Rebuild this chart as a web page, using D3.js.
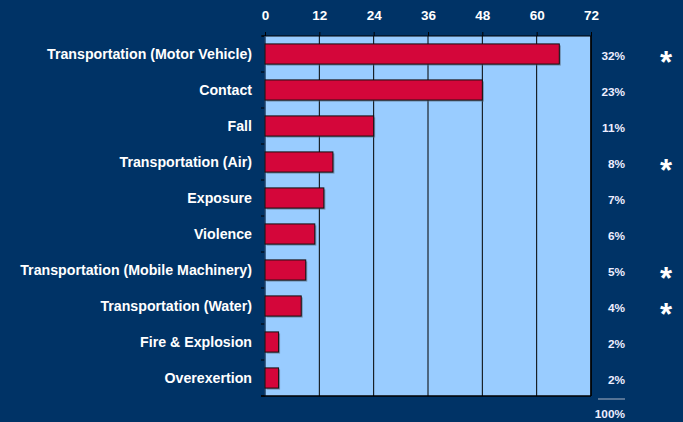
<!DOCTYPE html>
<html>
<head>
<meta charset="utf-8">
<script src="https://cdn.jsdelivr.net/npm/d3@7"></script>
<style>
  body { margin: 0; background: #003366; }
  svg { display: block; font-family: Arial, "Liberation Sans", sans-serif; }
</style>
</head>
<body>
<svg id="chart" width="683" height="422"></svg>
<script>
// chart data
let categories = ["Transportation (Motor Vehicle)", "Contact", "Fall", "Transportation (Air)",
    "Exposure", "Violence", "Transportation (Mobile Machinery)", "Transportation (Water)",
    "Fire & Explosion", "Overexertion"];
let values = [65, 48, 24, 15, 13, 11, 9, 8, 3, 3];
let percents = ["32%", "23%", "11%", "8%", "7%", "6%", "5%", "4%", "2%", "2%"];
let starred = [true, false, false, true, false, false, true, true, false, false];
let xTicks = [0, 12, 24, 36, 48, 60, 72];
let totalLabel = "100%";

let svg = d3.select("#chart");
let plotLeft = 265, plotRight = 591, plotTop = 36, plotBottom = 396;

let xScale = d3.scaleLinear().domain([0, 72]).range([plotLeft, plotRight]);
let yScale = d3.scaleBand().domain(categories).range([plotTop, plotBottom]).paddingInner(0.44).paddingOuter(0.22);
let bandScale = d3.scaleBand().domain(categories).range([plotTop, plotBottom]);

// plot background
svg.append("rect")
    .attr("x", plotLeft).attr("y", plotTop)
    .attr("width", plotRight - plotLeft).attr("height", plotBottom - plotTop)
    .attr("fill", "#99ccff");

// gridlines
svg.append("g")
    .selectAll("line")
    .data(xTicks.slice(1))
    .join("line")
    .attr("x1", d => xScale(d)).attr("x2", d => xScale(d))
    .attr("y1", plotTop).attr("y2", plotBottom)
    .attr("stroke", "#000").attr("stroke-width", 1);

// top axis
let xAxis = d3.axisTop(xScale).tickValues(xTicks).tickSize(4).tickPadding(12);
let gx = svg.append("g").attr("transform", `translate(0,${plotTop})`).call(xAxis);
gx.select(".domain").attr("stroke", "#000").attr("d", `M${plotLeft - 3},0H${plotRight}`);
gx.selectAll(".tick line").attr("stroke", "#000");
gx.selectAll("text")
    .attr("fill", "#fff").attr("font-size", 13.5).attr("font-weight", "bold")
    .attr("font-family", "Arial, 'Liberation Sans', sans-serif");

// left axis ticks at band boundaries
let bounds = categories.map(c => bandScale(c)).concat([plotBottom]);
svg.append("g")
    .selectAll("line")
    .data(bounds)
    .join("line")
    .attr("x1", plotLeft - 4).attr("x2", plotLeft)
    .attr("y1", d => d).attr("y2", d => d)
    .attr("stroke", "#000");
svg.append("line")
    .attr("x1", plotLeft).attr("x2", plotLeft).attr("y1", plotTop).attr("y2", plotBottom)
    .attr("stroke", "#1d3f66").attr("stroke-width", 1.5);

// bottom line and right border
svg.append("line")
    .attr("x1", plotLeft - 4).attr("x2", plotRight).attr("y1", plotBottom).attr("y2", plotBottom)
    .attr("stroke", "#000").attr("stroke-width", 1.5);
svg.append("line")
    .attr("x1", plotRight).attr("x2", plotRight).attr("y1", plotTop).attr("y2", plotBottom)
    .attr("stroke", "#000").attr("stroke-width", 1.5);

// bar shadows
svg.append("g")
    .selectAll("rect")
    .data(categories)
    .join("rect")
    .attr("x", plotLeft + 1.5)
    .attr("y", d => yScale(d) + 1.5)
    .attr("width", (d, i) => xScale(values[i]) - plotLeft)
    .attr("height", yScale.bandwidth())
    .attr("fill", "#556677").attr("opacity", 0.6);

// bars
svg.append("g")
    .selectAll("rect")
    .data(categories)
    .join("rect")
    .attr("x", plotLeft)
    .attr("y", d => yScale(d))
    .attr("width", (d, i) => xScale(values[i]) - plotLeft)
    .attr("height", yScale.bandwidth())
    .attr("fill", "#d4063a")
    .attr("stroke", "#111").attr("stroke-width", 1);

// category labels
svg.append("g")
    .selectAll("text")
    .data(categories)
    .join("text")
    .attr("x", 252)
    .attr("y", d => bandScale(d) + bandScale.bandwidth() / 2)
    .attr("dy", "0.35em")
    .attr("text-anchor", "end")
    .attr("fill", "#fff").attr("font-size", 14.2).attr("font-weight", "bold")
    .text(d => d);

// percent labels
svg.append("g")
    .selectAll("text")
    .data(categories)
    .join("text")
    .attr("x", 625)
    .attr("y", d => bandScale(d) + bandScale.bandwidth() / 2 + 2)
    .attr("dy", "0.35em")
    .attr("text-anchor", "end")
    .attr("fill", "#eef").attr("font-size", 11.8).attr("font-weight", "bold")
    .text((d, i) => percents[i]);

// asterisks
svg.append("g")
    .selectAll("text")
    .data(categories.filter((d, i) => starred[i]))
    .join("text")
    .attr("x", 666)
    .attr("y", d => bandScale(d) + bandScale.bandwidth() / 2 + 19)
    .attr("text-anchor", "middle")
    .attr("fill", "#fff")
    .attr("font-size", 31).attr("font-weight", "bold")
    .text("*");

// total
svg.append("line")
    .attr("x1", 598).attr("x2", 625).attr("y1", 399).attr("y2", 399)
    .attr("stroke", "#aab4c4").attr("stroke-width", 1);
svg.append("text")
    .attr("x", 625).attr("y", 418)
    .attr("text-anchor", "end")
    .attr("fill", "#eef").attr("font-size", 11.8).attr("font-weight", "bold")
    .text(totalLabel);
</script>
</body>
</html>
